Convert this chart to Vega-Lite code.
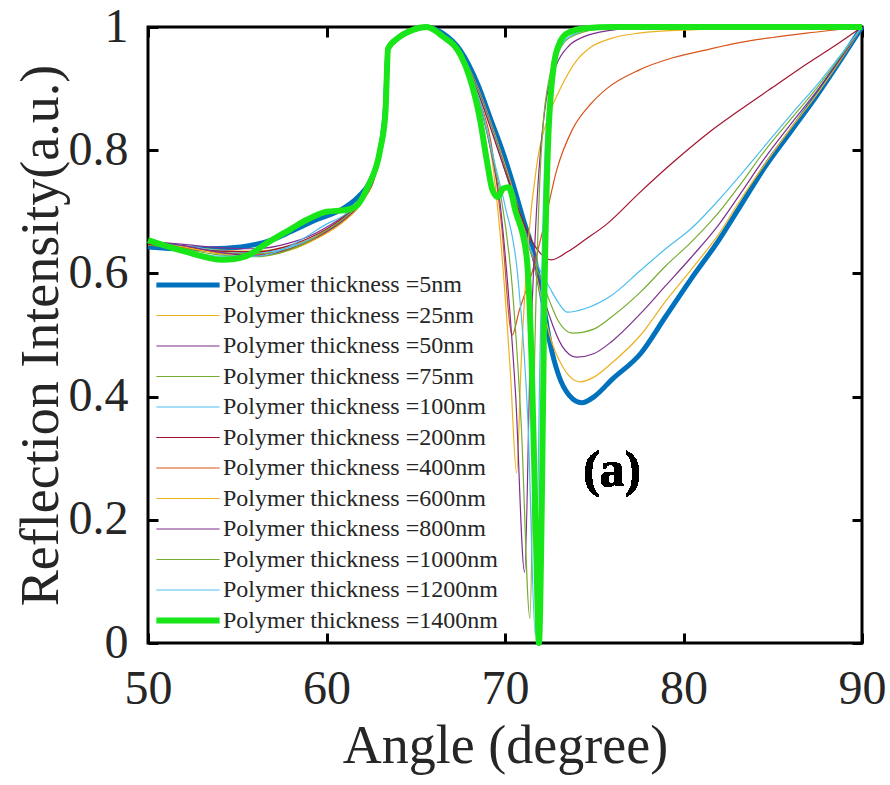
{
 "$schema": "https://vega.github.io/schema/vega-lite/v6.json",
 "width": 714, "height": 616,
 "autosize": {"type": "none"},
 "padding": {"left": 148, "top": 27, "right": 28, "bottom": 142},
 "background": "white",
 "config": {"view": {"stroke": "black", "strokeWidth": 3}, "font": "Liberation Serif", "legend": {"labelFont": "Liberation Serif"}},
 "data": {"values": [
{"s":"5","x":50,"y":0.643},{"s":"5","x":52,"y":0.640},{"s":"5","x":53.5,"y":0.640},{"s":"5","x":55.2,"y":0.643},{"s":"5","x":57,"y":0.655},{"s":"5","x":58,"y":0.668},{"s":"5","x":59.5,"y":0.688},{"s":"5","x":60.8,"y":0.703},{"s":"5","x":61.8,"y":0.725},{"s":"5","x":62.4,"y":0.747},{"s":"5","x":63.0,"y":0.80},{"s":"5","x":63.3,"y":0.87},{"s":"5","x":63.45,"y":0.965},{"s":"5","x":64,"y":0.982},{"s":"5","x":64.8,"y":0.995},{"s":"5","x":65.6,"y":1.0},{"s":"5","x":66.5,"y":0.99},{"s":"5","x":67.5,"y":0.962},{"s":"5","x":68.5,"y":0.905},{"s":"5","x":69.2,"y":0.85},{"s":"5","x":69.9,"y":0.795},{"s":"5","x":70.5,"y":0.74},{"s":"5","x":71.0,"y":0.69},{"s":"5","x":71.6,"y":0.632},{"s":"5","x":72.0,"y":0.575},{"s":"5","x":72.5,"y":0.49},{"s":"5","x":73.0,"y":0.435},{"s":"5","x":73.6,"y":0.402},{"s":"5","x":74.3,"y":0.39},{"s":"5","x":75.0,"y":0.40},{"s":"5","x":76.0,"y":0.428},{"s":"5","x":77.6,"y":0.47},{"s":"5","x":79.0,"y":0.53},{"s":"5","x":80.4,"y":0.59},{"s":"5","x":82.0,"y":0.655},{"s":"5","x":83.2,"y":0.71},{"s":"5","x":84.5,"y":0.77},{"s":"5","x":86.0,"y":0.83},{"s":"5","x":87.5,"y":0.89},{"s":"5","x":89.0,"y":0.955},{"s":"5","x":90,"y":1.0},
{"s":"25","x":50,"y":0.648},{"s":"25","x":52,"y":0.644},{"s":"25","x":54,"y":0.638},{"s":"25","x":56,"y":0.636},{"s":"25","x":58,"y":0.645},{"s":"25","x":59,"y":0.655},{"s":"25","x":60,"y":0.670},{"s":"25","x":61,"y":0.690},{"s":"25","x":62,"y":0.720},{"s":"25","x":62.8,"y":0.770},{"s":"25","x":63.3,"y":0.860},{"s":"25","x":63.45,"y":0.965},{"s":"25","x":64,"y":0.982},{"s":"25","x":64.8,"y":0.995},{"s":"25","x":65.6,"y":1},{"s":"25","x":66.5,"y":0.988},{"s":"25","x":67.5,"y":0.958},{"s":"25","x":68.5,"y":0.900},{"s":"25","x":69.2,"y":0.845},{"s":"25","x":69.9,"y":0.785},{"s":"25","x":70.5,"y":0.730},{"s":"25","x":71.0,"y":0.680},{"s":"25","x":71.6,"y":0.620},{"s":"25","x":72.0,"y":0.565},{"s":"25","x":72.5,"y":0.500},{"s":"25","x":73.2,"y":0.450},{"s":"25","x":74.2,"y":0.424},{"s":"25","x":75.0,"y":0.432},{"s":"25","x":76.0,"y":0.455},{"s":"25","x":77.6,"y":0.500},{"s":"25","x":79.0,"y":0.555},{"s":"25","x":80.4,"y":0.605},{"s":"25","x":82.0,"y":0.665},{"s":"25","x":83.2,"y":0.720},{"s":"25","x":84.5,"y":0.775},{"s":"25","x":86.0,"y":0.835},{"s":"25","x":87.5,"y":0.892},{"s":"25","x":89.0,"y":0.955},{"s":"25","x":90,"y":1},
{"s":"50","x":50,"y":0.652},{"s":"50","x":52,"y":0.647},{"s":"50","x":54,"y":0.642},{"s":"50","x":56,"y":0.640},{"s":"50","x":58,"y":0.650},{"s":"50","x":59,"y":0.660},{"s":"50","x":60,"y":0.675},{"s":"50","x":61,"y":0.694},{"s":"50","x":62,"y":0.724},{"s":"50","x":62.8,"y":0.772},{"s":"50","x":63.3,"y":0.862},{"s":"50","x":63.45,"y":0.965},{"s":"50","x":64,"y":0.982},{"s":"50","x":64.8,"y":0.995},{"s":"50","x":65.6,"y":1},{"s":"50","x":66.5,"y":0.988},{"s":"50","x":67.5,"y":0.956},{"s":"50","x":68.5,"y":0.898},{"s":"50","x":69.2,"y":0.842},{"s":"50","x":69.9,"y":0.780},{"s":"50","x":70.5,"y":0.725},{"s":"50","x":71.0,"y":0.675},{"s":"50","x":71.6,"y":0.620},{"s":"50","x":72.0,"y":0.578},{"s":"50","x":72.5,"y":0.530},{"s":"50","x":73.2,"y":0.482},{"s":"50","x":74.0,"y":0.464},{"s":"50","x":75.0,"y":0.470},{"s":"50","x":76.0,"y":0.490},{"s":"50","x":77.6,"y":0.535},{"s":"50","x":79.0,"y":0.580},{"s":"50","x":80.4,"y":0.625},{"s":"50","x":82.0,"y":0.680},{"s":"50","x":83.2,"y":0.730},{"s":"50","x":84.5,"y":0.785},{"s":"50","x":86.0,"y":0.842},{"s":"50","x":87.5,"y":0.897},{"s":"50","x":89.0,"y":0.957},{"s":"50","x":90,"y":1},
{"s":"75","x":50,"y":0.646},{"s":"75","x":52,"y":0.641},{"s":"75","x":54,"y":0.634},{"s":"75","x":56,"y":0.632},{"s":"75","x":58,"y":0.641},{"s":"75","x":59,"y":0.652},{"s":"75","x":60,"y":0.667},{"s":"75","x":61,"y":0.687},{"s":"75","x":62,"y":0.717},{"s":"75","x":62.8,"y":0.768},{"s":"75","x":63.3,"y":0.858},{"s":"75","x":63.45,"y":0.965},{"s":"75","x":64,"y":0.982},{"s":"75","x":64.8,"y":0.995},{"s":"75","x":65.6,"y":1},{"s":"75","x":66.5,"y":0.987},{"s":"75","x":67.5,"y":0.955},{"s":"75","x":68.5,"y":0.896},{"s":"75","x":69.2,"y":0.840},{"s":"75","x":69.9,"y":0.778},{"s":"75","x":70.5,"y":0.722},{"s":"75","x":71.0,"y":0.672},{"s":"75","x":71.6,"y":0.622},{"s":"75","x":72.0,"y":0.592},{"s":"75","x":72.5,"y":0.555},{"s":"75","x":73.0,"y":0.522},{"s":"75","x":73.8,"y":0.503},{"s":"75","x":75.0,"y":0.510},{"s":"75","x":76.0,"y":0.530},{"s":"75","x":77.6,"y":0.570},{"s":"75","x":79.0,"y":0.612},{"s":"75","x":80.4,"y":0.650},{"s":"75","x":82.0,"y":0.700},{"s":"75","x":83.2,"y":0.745},{"s":"75","x":84.5,"y":0.797},{"s":"75","x":86.0,"y":0.850},{"s":"75","x":87.5,"y":0.902},{"s":"75","x":89.0,"y":0.960},{"s":"75","x":90,"y":1},
{"s":"100","x":50,"y":0.650},{"s":"100","x":52,"y":0.645},{"s":"100","x":54,"y":0.637},{"s":"100","x":56,"y":0.634},{"s":"100","x":58,"y":0.643},{"s":"100","x":59,"y":0.654},{"s":"100","x":60,"y":0.669},{"s":"100","x":61,"y":0.690},{"s":"100","x":62,"y":0.721},{"s":"100","x":62.8,"y":0.770},{"s":"100","x":63.3,"y":0.860},{"s":"100","x":63.45,"y":0.965},{"s":"100","x":64,"y":0.982},{"s":"100","x":64.8,"y":0.995},{"s":"100","x":65.6,"y":1},{"s":"100","x":66.5,"y":0.987},{"s":"100","x":67.5,"y":0.954},{"s":"100","x":68.5,"y":0.894},{"s":"100","x":69.2,"y":0.838},{"s":"100","x":69.9,"y":0.776},{"s":"100","x":70.5,"y":0.720},{"s":"100","x":71.0,"y":0.672},{"s":"100","x":71.6,"y":0.628},{"s":"100","x":72.0,"y":0.603},{"s":"100","x":72.5,"y":0.577},{"s":"100","x":73.0,"y":0.552},{"s":"100","x":73.5,"y":0.537},{"s":"100","x":74.5,"y":0.543},{"s":"100","x":76.0,"y":0.565},{"s":"100","x":77.6,"y":0.605},{"s":"100","x":79.0,"y":0.640},{"s":"100","x":80.4,"y":0.672},{"s":"100","x":82.0,"y":0.720},{"s":"100","x":83.2,"y":0.760},{"s":"100","x":84.5,"y":0.805},{"s":"100","x":86.0,"y":0.857},{"s":"100","x":87.5,"y":0.907},{"s":"100","x":89.0,"y":0.962},{"s":"100","x":90,"y":1},
{"s":"200","x":50,"y":0.647},{"s":"200","x":52,"y":0.643},{"s":"200","x":54,"y":0.636},{"s":"200","x":56,"y":0.635},{"s":"200","x":58,"y":0.646},{"s":"200","x":59,"y":0.657},{"s":"200","x":60,"y":0.672},{"s":"200","x":61,"y":0.692},{"s":"200","x":62,"y":0.722},{"s":"200","x":62.8,"y":0.771},{"s":"200","x":63.3,"y":0.860},{"s":"200","x":63.45,"y":0.965},{"s":"200","x":64,"y":0.982},{"s":"200","x":64.8,"y":0.995},{"s":"200","x":65.6,"y":1},{"s":"200","x":66.5,"y":0.986},{"s":"200","x":67.5,"y":0.952},{"s":"200","x":68.5,"y":0.892},{"s":"200","x":69.2,"y":0.835},{"s":"200","x":69.9,"y":0.775},{"s":"200","x":70.5,"y":0.725},{"s":"200","x":71.0,"y":0.685},{"s":"200","x":71.6,"y":0.648},{"s":"200","x":72.0,"y":0.632},{"s":"200","x":72.6,"y":0.622},{"s":"200","x":73.5,"y":0.635},{"s":"200","x":74.5,"y":0.655},{"s":"200","x":75.7,"y":0.680},{"s":"200","x":77.5,"y":0.730},{"s":"200","x":79.4,"y":0.780},{"s":"200","x":81.3,"y":0.826},{"s":"200","x":83.2,"y":0.866},{"s":"200","x":85.0,"y":0.902},{"s":"200","x":86.9,"y":0.940},{"s":"200","x":88.5,"y":0.970},{"s":"200","x":90,"y":1},
{"s":"400","x":50,"y":0.649},{"s":"400","x":52,"y":0.642},{"s":"400","x":54,"y":0.633},{"s":"400","x":56,"y":0.630},{"s":"400","x":58,"y":0.640},{"s":"400","x":59,"y":0.651},{"s":"400","x":60,"y":0.666},{"s":"400","x":61,"y":0.686},{"s":"400","x":62,"y":0.717},{"s":"400","x":62.8,"y":0.768},{"s":"400","x":63.3,"y":0.858},{"s":"400","x":63.45,"y":0.965},{"s":"400","x":64,"y":0.982},{"s":"400","x":64.8,"y":0.995},{"s":"400","x":65.6,"y":1},{"s":"400","x":66.5,"y":0.985},{"s":"400","x":67.5,"y":0.950},{"s":"400","x":68.5,"y":0.885},{"s":"400","x":69.2,"y":0.815},{"s":"400","x":69.8,"y":0.680},{"s":"400","x":70.4,"y":0.500},{"s":"400","x":70.8,"y":0.540},{"s":"400","x":71.5,"y":0.600},{"s":"400","x":72.2,"y":0.680},{"s":"400","x":72.9,"y":0.768},{"s":"400","x":73.8,"y":0.835},{"s":"400","x":74.8,"y":0.875},{"s":"400","x":75.7,"y":0.900},{"s":"400","x":77.5,"y":0.930},{"s":"400","x":79.4,"y":0.950},{"s":"400","x":81.3,"y":0.963},{"s":"400","x":83.2,"y":0.975},{"s":"400","x":85.0,"y":0.983},{"s":"400","x":86.9,"y":0.990},{"s":"400","x":90,"y":1},
{"s":"600","x":50,"y":0.651},{"s":"600","x":52,"y":0.643},{"s":"600","x":54,"y":0.632},{"s":"600","x":56,"y":0.628},{"s":"600","x":58,"y":0.638},{"s":"600","x":59,"y":0.650},{"s":"600","x":60,"y":0.665},{"s":"600","x":61,"y":0.685},{"s":"600","x":62,"y":0.716},{"s":"600","x":62.8,"y":0.767},{"s":"600","x":63.3,"y":0.857},{"s":"600","x":63.45,"y":0.965},{"s":"600","x":64,"y":0.982},{"s":"600","x":64.8,"y":0.995},{"s":"600","x":65.6,"y":1},{"s":"600","x":66.5,"y":0.985},{"s":"600","x":67.5,"y":0.949},{"s":"600","x":68.5,"y":0.882},{"s":"600","x":69.2,"y":0.800},{"s":"600","x":69.8,"y":0.640},{"s":"600","x":70.3,"y":0.440},{"s":"600","x":70.65,"y":0.276},{"s":"600","x":70.9,"y":0.450},{"s":"600","x":71.3,"y":0.650},{"s":"600","x":71.8,"y":0.780},{"s":"600","x":72.5,"y":0.860},{"s":"600","x":73.1,"y":0.900},{"s":"600","x":74.0,"y":0.945},{"s":"600","x":74.8,"y":0.967},{"s":"600","x":76.0,"y":0.982},{"s":"600","x":77.5,"y":0.990},{"s":"600","x":80.0,"y":0.995},{"s":"600","x":90,"y":1},
{"s":"800","x":50,"y":0.653},{"s":"800","x":52,"y":0.645},{"s":"800","x":54,"y":0.634},{"s":"800","x":56,"y":0.629},{"s":"800","x":58,"y":0.640},{"s":"800","x":59,"y":0.652},{"s":"800","x":60,"y":0.668},{"s":"800","x":61,"y":0.688},{"s":"800","x":62,"y":0.718},{"s":"800","x":62.8,"y":0.768},{"s":"800","x":63.3,"y":0.858},{"s":"800","x":63.45,"y":0.965},{"s":"800","x":64,"y":0.982},{"s":"800","x":64.8,"y":0.995},{"s":"800","x":65.6,"y":1},{"s":"800","x":66.5,"y":0.985},{"s":"800","x":67.5,"y":0.950},{"s":"800","x":68.5,"y":0.884},{"s":"800","x":69.2,"y":0.800},{"s":"800","x":69.7,"y":0.720},{"s":"800","x":70.1,"y":0.600},{"s":"800","x":70.6,"y":0.400},{"s":"800","x":71.1,"y":0.115},{"s":"800","x":71.4,"y":0.450},{"s":"800","x":71.8,"y":0.720},{"s":"800","x":72.3,"y":0.880},{"s":"800","x":72.9,"y":0.940},{"s":"800","x":73.6,"y":0.970},{"s":"800","x":74.4,"y":0.984},{"s":"800","x":76.0,"y":0.995},{"s":"800","x":77.5,"y":0.999},{"s":"800","x":90,"y":1},
{"s":"1000","x":50,"y":0.650},{"s":"1000","x":52,"y":0.640},{"s":"1000","x":54,"y":0.630},{"s":"1000","x":56,"y":0.627},{"s":"1000","x":58,"y":0.639},{"s":"1000","x":59,"y":0.652},{"s":"1000","x":60,"y":0.670},{"s":"1000","x":61,"y":0.690},{"s":"1000","x":62,"y":0.720},{"s":"1000","x":62.8,"y":0.770},{"s":"1000","x":63.3,"y":0.860},{"s":"1000","x":63.45,"y":0.965},{"s":"1000","x":64,"y":0.982},{"s":"1000","x":64.8,"y":0.995},{"s":"1000","x":65.6,"y":1},{"s":"1000","x":66.5,"y":0.986},{"s":"1000","x":67.5,"y":0.952},{"s":"1000","x":68.5,"y":0.886},{"s":"1000","x":69.3,"y":0.790},{"s":"1000","x":69.8,"y":0.720},{"s":"1000","x":70.4,"y":0.580},{"s":"1000","x":70.9,"y":0.360},{"s":"1000","x":71.4,"y":0.040},{"s":"1000","x":71.65,"y":0.450},{"s":"1000","x":72.0,"y":0.780},{"s":"1000","x":72.5,"y":0.920},{"s":"1000","x":73.2,"y":0.970},{"s":"1000","x":74.0,"y":0.988},{"s":"1000","x":75.5,"y":0.997},{"s":"1000","x":90,"y":1},
{"s":"1200","x":50,"y":0.652},{"s":"1200","x":52,"y":0.638},{"s":"1200","x":54,"y":0.628},{"s":"1200","x":56,"y":0.628},{"s":"1200","x":58,"y":0.645},{"s":"1200","x":59,"y":0.662},{"s":"1200","x":60,"y":0.680},{"s":"1200","x":61,"y":0.695},{"s":"1200","x":62,"y":0.722},{"s":"1200","x":62.8,"y":0.772},{"s":"1200","x":63.3,"y":0.862},{"s":"1200","x":63.45,"y":0.965},{"s":"1200","x":64,"y":0.982},{"s":"1200","x":64.8,"y":0.995},{"s":"1200","x":65.6,"y":1},{"s":"1200","x":66.5,"y":0.986},{"s":"1200","x":67.5,"y":0.953},{"s":"1200","x":68.5,"y":0.888},{"s":"1200","x":69.5,"y":0.770},{"s":"1200","x":70.0,"y":0.710},{"s":"1200","x":70.7,"y":0.600},{"s":"1200","x":71.3,"y":0.350},{"s":"1200","x":71.7,"y":0.012},{"s":"1200","x":71.95,"y":0.450},{"s":"1200","x":72.3,"y":0.830},{"s":"1200","x":72.8,"y":0.940},{"s":"1200","x":73.5,"y":0.982},{"s":"1200","x":75.0,"y":0.997},{"s":"1200","x":90,"y":1},
{"s":"1400","x":50,"y":0.654},{"s":"1400","x":52,"y":0.636},{"s":"1400","x":54.2,"y":0.622},{"s":"1400","x":55.5,"y":0.628},{"s":"1400","x":56.7,"y":0.650},{"s":"1400","x":58.0,"y":0.672},{"s":"1400","x":58.9,"y":0.687},{"s":"1400","x":60.0,"y":0.700},{"s":"1400","x":61.1,"y":0.703},{"s":"1400","x":61.7,"y":0.710},{"s":"1400","x":62.3,"y":0.740},{"s":"1400","x":63.0,"y":0.800},{"s":"1400","x":63.3,"y":0.860},{"s":"1400","x":63.45,"y":0.965},{"s":"1400","x":64,"y":0.982},{"s":"1400","x":64.8,"y":0.995},{"s":"1400","x":65.6,"y":1},{"s":"1400","x":66.5,"y":0.985},{"s":"1400","x":67.5,"y":0.955},{"s":"1400","x":68.0,"y":0.920},{"s":"1400","x":68.6,"y":0.850},{"s":"1400","x":69.0,"y":0.780},{"s":"1400","x":69.3,"y":0.735},{"s":"1400","x":69.6,"y":0.724},{"s":"1400","x":69.9,"y":0.738},{"s":"1400","x":70.2,"y":0.740},{"s":"1400","x":70.6,"y":0.700},{"s":"1400","x":71.2,"y":0.630},{"s":"1400","x":71.5,"y":0.450},{"s":"1400","x":71.75,"y":0.150},{"s":"1400","x":71.9,"y":0},{"s":"1400","x":72.05,"y":0.200},{"s":"1400","x":72.2,"y":0.550},{"s":"1400","x":72.4,"y":0.800},{"s":"1400","x":72.7,"y":0.930},{"s":"1400","x":73.0,"y":0.970},{"s":"1400","x":73.5,"y":0.990},{"s":"1400","x":74.5,"y":0.998},{"s":"1400","x":76,"y":1},{"s":"1400","x":90,"y":1}
 ]},
 "layer": [
  {
   "mark": {"type": "line", "interpolate": "monotone"},
   "encoding": {
    "x": {"field": "x", "type": "quantitative", "scale": {"domain": [50, 90], "nice": false},
          "axis": {"orient": "bottom", "values": [50, 60, 70, 80, 90], "grid": false, "domain": false,
                   "tickSize": -10, "tickWidth": 3, "tickColor": "black", "labelPadding": 32, "labelFlush": false,
                   "labelFontSize": 48, "labelColor": "#262626", "labelFont": "Liberation Serif",
                   "title": "Angle (degree)", "titleFontSize": 54, "titleFontWeight": "normal", "titleColor": "#262626",
                   "titleFont": "Liberation Serif", "titlePadding": 6}},
    "y": {"field": "y", "type": "quantitative", "scale": {"domain": [0, 1], "nice": false},
          "axis": {"orient": "left", "values": [0, 0.2, 0.4, 0.6, 0.8, 1], "format": ".1~f", "grid": false, "domain": false,
                   "tickSize": -10, "tickWidth": 3, "tickColor": "black", "labelPadding": 30, "labelFlush": false,
                   "labelFontSize": 48, "labelColor": "#262626", "labelFont": "Liberation Serif",
                   "title": "Reflection Intensity(a.u.)", "titleFontSize": 54, "titleFontWeight": "normal", "titleColor": "#262626",
                   "titleFont": "Liberation Serif", "titlePadding": 0}},
    "color": {"field": "s", "type": "nominal",
              "scale": {"domain": ["5","25","50","75","100","200","400","600","800","1000","1200","1400"],
                        "range": ["#0072BD","#EDB120","#7E2F8E","#77AC30","#4DBEEE","#A2142F","#D95319","#EDB120","#7E2F8E","#77AC30","#4DBEEE","#19E619"]},
              "legend": {"orient": "none", "legendX": 5, "legendY": 243, "title": null,
                         "symbolType": "stroke", "symbolSize": 4000, "rowPadding": 0.5, "clipHeight": 30,
                         "labelFontSize": 24, "labelFont": "Liberation Serif", "labelColor": "#262626", "labelOffset": 0, "labelLimit": 0,
                         "labelExpr": "'Polymer thickness =' + datum.label + 'nm'", "padding": 0,
                         "encode": {"labels": {"update": {"font": {"value": "Liberation Serif"}}}}}},
    "strokeWidth": {"field": "s", "type": "nominal",
              "scale": {"type": "ordinal", "domain": ["5","25","50","75","100","200","400","600","800","1000","1200","1400"],
                        "range": [5,1.2,1.2,1.2,1.2,1.2,1.2,1.2,1.2,1.2,1.2,6]},
              "legend": {"orient": "none", "legendX": 5, "legendY": 243, "title": null,
                         "symbolType": "stroke", "symbolSize": 4000, "rowPadding": 0.5, "clipHeight": 30,
                         "labelFontSize": 24, "labelFont": "Liberation Serif", "labelColor": "#262626", "labelOffset": 0, "labelLimit": 0,
                         "labelExpr": "'Polymer thickness =' + datum.label + 'nm'", "padding": 0,
                         "encode": {"labels": {"update": {"font": {"value": "Liberation Serif"}}}}}}
   }
  },
  {
   "mark": {"type": "text", "fontSize": 50, "fontWeight": "bold", "font": "Liberation Serif", "color": "black"},
   "encoding": {
    "x": {"datum": 76, "type": "quantitative",
          "axis": {"orient": "top", "values": [50, 60, 70, 80, 90], "labels": false, "title": null, "grid": false, "domain": false,
                   "tickSize": -10, "tickWidth": 3, "tickColor": "black"}},
    "y": {"datum": 0.28, "type": "quantitative",
          "axis": {"orient": "right", "values": [0, 0.2, 0.4, 0.6, 0.8, 1], "labels": false, "title": null, "grid": false, "domain": false,
                   "tickSize": -10, "tickWidth": 3, "tickColor": "black"}},
    "text": {"value": "(a)"}
   }
  }
 ],
 "resolve": {"axis": {"x": "independent", "y": "independent"}}
}
